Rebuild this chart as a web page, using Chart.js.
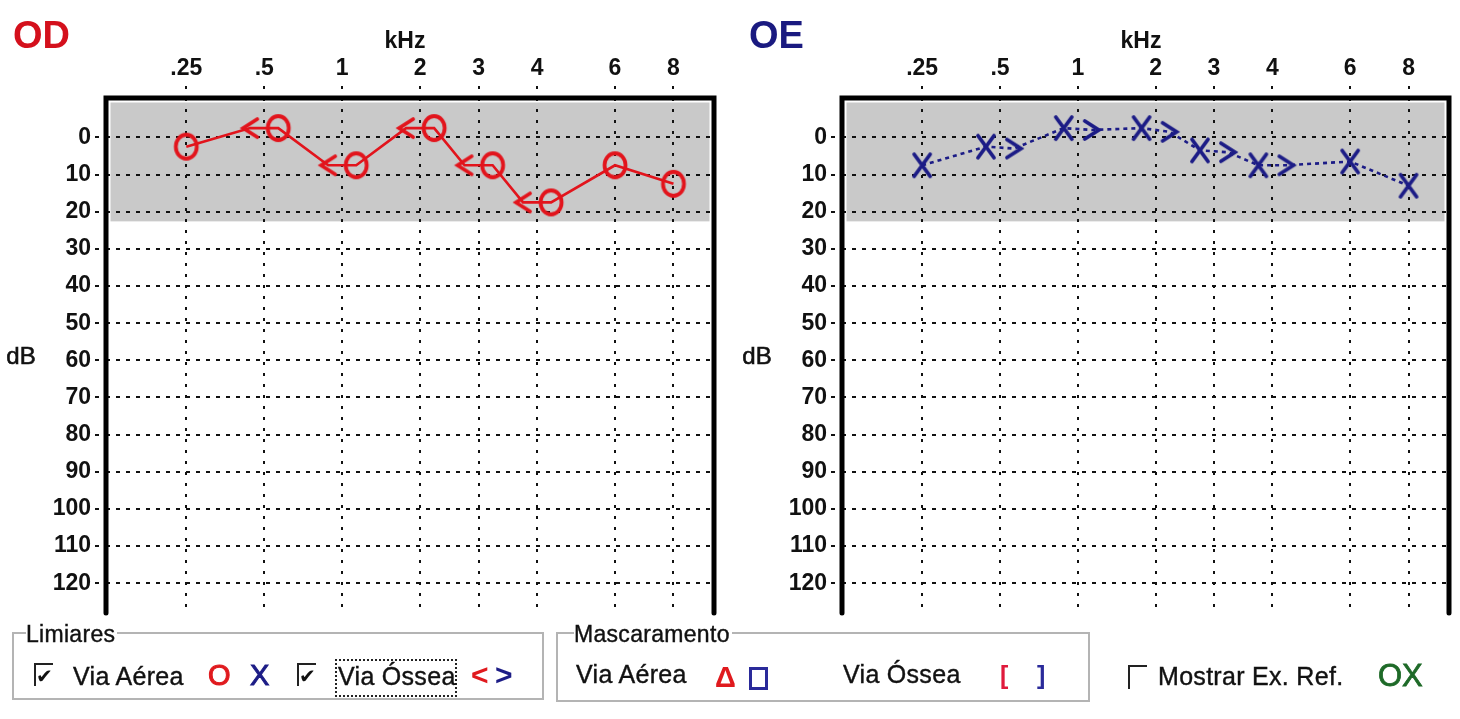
<!DOCTYPE html>
<html>
<head>
<meta charset="utf-8">
<script src="https://cdn.jsdelivr.net/npm/chart.js@4.4.1/dist/chart.umd.min.js"></script>
<style>
  body { margin: 0; width: 1460px; height: 719px; background: #fff; overflow: hidden;
         position: relative; font-family: "Liberation Sans", Arial, sans-serif; color: #111; }
  .pane { position: absolute; top: 0; width: 730px; height: 719px; }
  .box { position: absolute; border: 2px solid #b4b4b4; box-shadow: inset 1px 1px 0 #fff, 1px 1px 0 #fff; }
  .t { position: absolute; font-size: 25px; letter-spacing: 0.3px; white-space: nowrap; line-height: 1; -webkit-text-stroke: 0.4px #111; }
  .cap { background: #fff; padding-right: 2px; font-size: 23px; }
  .chk { position: absolute; width: 17px; height: 21px; border-left: 2px solid #222; border-top: 2px solid #222;
         font: bold 20px "DejaVu Sans", sans-serif; line-height: 22px; text-align: center; color: #111; }
  .sym { position: absolute; font-weight: bold; line-height: 1; }
  .focus { position: absolute; border: 2px dotted #222; }
</style>
</head>
<body>
<div class="pane" style="left:0"><canvas id="od"></canvas></div>
<div class="pane" style="left:730px"><canvas id="oe"></canvas></div>

<!-- legend boxes -->
<div class="box" style="left:12px;top:632px;width:528px;height:64px"></div>
<div class="t cap" style="left:26px;top:623px">Limiares</div>
<div class="chk" style="left:34px;top:663px">✔</div>
<div class="t" style="left:73px;top:664px">Via Aérea</div>
<div class="sym" style="left:208px;top:661px;font-size:29px;color:#e01a1e;font-weight:normal;-webkit-text-stroke:1px #e01a1e">O</div>
<div class="sym" style="left:250px;top:661px;font-size:29px;color:#1c1c86;font-weight:normal;-webkit-text-stroke:1px #1c1c86">X</div>
<div class="chk" style="left:297px;top:663px">✔</div>
<div class="focus" style="left:335px;top:659px;width:118px;height:34px"></div>
<div class="t" style="left:338px;top:664px">Via Óssea</div>
<div class="sym" style="left:471px;top:660px;font-size:30px;color:#e01a1e">&lt;</div>
<div class="sym" style="left:495px;top:660px;font-size:30px;color:#1c1c86">&gt;</div>

<div class="box" style="left:556px;top:632px;width:530px;height:66px"></div>
<div class="t cap" style="left:574px;top:623px">Mascaramento</div>
<div class="t" style="left:576px;top:662px">Via Aérea</div>
<div class="sym" style="left:715px;top:663px;font-size:29px;color:#e01a1e">&#916;</div>
<div class="sym" style="left:749px;top:667px;width:13px;height:17px;border:3px solid #2a2a9a"></div>
<div class="t" style="left:843px;top:662px">Via Óssea</div>
<div class="sym" style="left:1000px;top:663px;font-size:25px;color:#e01a3c">[</div>
<div class="sym" style="left:1037px;top:663px;font-size:25px;color:#2a2a9a">]</div>

<div class="chk" style="left:1128px;top:665px;height:22px"></div>
<div class="t" style="left:1158px;top:664px">Mostrar Ex. Ref.</div>
<div class="sym" style="left:1378px;top:660px;font-size:31px;color:#1e6a28;font-weight:normal;-webkit-text-stroke:0.8px #1e6a28">OX</div>

<script>
// frequency columns (kHz) and hearing level ticks (dB)
const freqLabels = ['.25', '.5', '1', '2', '3', '4', '6', '8'];
const dbTicks = [0, 10, 20, 30, 40, 50, 60, 70, 80, 90, 100, 110, 120];

// OD (right ear): air conduction "O", bone conduction "<"
const odAir  = [2.5, -2.5, 7.5, -2.5, 7.5, 17.5, 7.5, 12.5];
const odBone = [null, -2.5, 7.5, -2.5, 7.5, 17.5, null, null];

// OE (left ear): air conduction "X", bone conduction ">"
const oeAir  = [7.5, 2.5, -2.5, -2.5, 3.5, 7.5, 6.5, 13];
const oeBone = [null, 3, -2, -1.5, 4, 7.5, null, null];

const normalLimit = 22.6; // grey normal-hearing band ends here

const RED = '#e2141c';
const BLUE = '#1c1c86';
const FONT = '"Liberation Sans", Arial, sans-serif';

// the audiogram's own column layout (not evenly spaced octaves)
const freqSlots = [0, 1, 2, 3, 3.75, 4.5, 5.5, 6.25];
const SIDE = 0.18;

// marker images
function mark(draw, color) {
  const c = document.createElement('canvas');
  c.width = 28; c.height = 32;
  const g = c.getContext('2d');
  g.strokeStyle = color;
  g.lineWidth = 3.8;
  g.lineCap = 'round';
  g.lineJoin = 'miter';
  g.beginPath();
  draw(g);
  g.stroke();
  return c;
}
const ring = g => g.ellipse(14, 16, 10.5, 12, 0, 0, Math.PI * 2);
const cross = g => { g.moveTo(6, 5); g.lineTo(22, 27); g.moveTo(22, 5); g.lineTo(6, 27); };
const lt = g => { g.moveTo(21, 7); g.lineTo(7, 16); g.lineTo(21, 25); };
const gt = g => { g.moveTo(7, 7); g.lineTo(21, 16); g.lineTo(7, 25); };

function points(vals, other, side) {
  const out = [];
  vals.forEach((v, i) => {
    if (v === null) return;
    const shift = other[i] !== null ? side * SIDE : 0;
    out.push({ x: freqSlots[i] + shift, y: v });
  });
  return out;
}

const greyBand = {
  id: 'greyBand',
  beforeDraw(chart) {
    const { ctx, chartArea: a, scales } = chart;
    const yEnd = scales.y.getPixelForValue(normalLimit);
    ctx.save();
    ctx.fillStyle = '#c9c9c9';
    ctx.fillRect(a.left + 4.5, a.top + 4.5, a.right - a.left - 9, yEnd - a.top - 4.5);
    ctx.restore();
  }
};

const frame = {
  id: 'frame',
  afterDraw(chart, args, opts) {
    const { ctx, chartArea: a } = chart;
    ctx.save();
    ctx.strokeStyle = '#000';
    ctx.lineWidth = 5;
    ctx.lineCap = 'round';
    ctx.lineJoin = 'miter';
    ctx.beginPath();
    ctx.moveTo(a.left, a.bottom);
    ctx.lineTo(a.left, a.top);
    ctx.lineTo(a.right, a.top);
    ctx.lineTo(a.right, a.bottom);
    ctx.stroke();

    ctx.fillStyle = opts.titleColor;
    ctx.font = `bold 38px ${FONT}`;
    ctx.textAlign = 'left';
    ctx.textBaseline = 'alphabetic';
    ctx.fillText(opts.title, opts.titleX, 48);

    ctx.fillStyle = '#111';
    ctx.font = `bold 23px ${FONT}`;
    ctx.textAlign = 'center';
    ctx.fillText('kHz', opts.khzX, 48);
    ctx.font = `24px ${FONT}`;
    ctx.lineWidth = 0.6;
    ctx.strokeStyle = '#111';
    ctx.fillText('dB', a.left - 85, 364);
    ctx.strokeText('dB', a.left - 85, 364);
    ctx.restore();
  }
};

function audiogram(id, cfg) {
  const airPts = points(cfg.air, cfg.bone, cfg.airSide);
  const bonePts = points(cfg.bone, cfg.air, -cfg.airSide);
  const path = airPts.concat(bonePts).sort((p, q) => p.x - q.x);

  return new Chart(document.getElementById(id), {
    type: 'scatter',
    data: {
      datasets: [
        { data: airPts, pointStyle: cfg.airMark, pointRadius: 10, order: 0 },
        { data: bonePts, pointStyle: cfg.boneMark, pointRadius: 10, order: 1 },
        {
          data: path,
          showLine: true,
          pointRadius: 0,
          borderColor: cfg.color,
          borderWidth: 2.6,
          borderDash: cfg.dash,
          order: 2
        }
      ]
    },
    options: {
      responsive: false,
      animation: false,
      layout: { padding: { left: 0, top: 0, right: 730 - cfg.right, bottom: 719 - 613 } },
      plugins: {
        legend: { display: false },
        tooltip: { enabled: false },
        frame: cfg.frame
      },
      scales: {
        x: {
          type: 'linear',
          position: 'top',
          min: -1.03,
          max: 6.77,
          afterFit(scale) { scale.height = 98; },
          afterBuildTicks(scale) { scale.ticks = freqSlots.map(v => ({ value: v })); },
          grid: {
            color: '#111', lineWidth: 2, tickLength: 12,
            tickColor: '#111', tickWidth: 2, tickBorderDash: [3, 7]
          },
          border: { display: false, dash: [3, 8] },
          ticks: {
            padding: 4,
            color: '#111',
            font: { family: FONT, size: 23, weight: 'bold' },
            maxRotation: 0,
            autoSkip: false,
            callback: (v, i) => freqLabels[i]
          }
        },
        y: {
          type: 'linear',
          reverse: true,
          min: -10.6,
          max: 128,
          afterFit(scale) { scale.width = cfg.left; },
          afterBuildTicks(scale) { scale.ticks = dbTicks.map(v => ({ value: v })); },
          grid: {
            color: '#111', lineWidth: 2, tickLength: 11,
            tickColor: '#111', tickWidth: 2, tickBorderDash: [4, 6]
          },
          border: { display: false, dash: [4, 6] },
          ticks: {
            padding: 4,
            color: '#111',
            font: { family: FONT, size: 23, weight: 'bold' },
            autoSkip: false
          }
        }
      }
    },
    plugins: [greyBand, frame]
  });
}

for (const id of ['od', 'oe']) {
  const c = document.getElementById(id);
  c.width = 730; c.height = 719;
}

audiogram('od', {
  air: odAir, bone: odBone, airSide: 1,
  airMark: mark(ring, RED), boneMark: mark(lt, RED),
  color: RED, dash: [], left: 106, right: 714,
  frame: { title: 'OD', titleColor: '#d4101c', titleX: 13, khzX: 405 }
});

audiogram('oe', {
  air: oeAir, bone: oeBone, airSide: -1,
  airMark: mark(cross, BLUE), boneMark: mark(gt, BLUE),
  color: BLUE, dash: [4, 4], left: 112, right: 720,
  frame: { title: 'OE', titleColor: '#1a1a80', titleX: 19, khzX: 411 }
});
</script>
</body>
</html>
